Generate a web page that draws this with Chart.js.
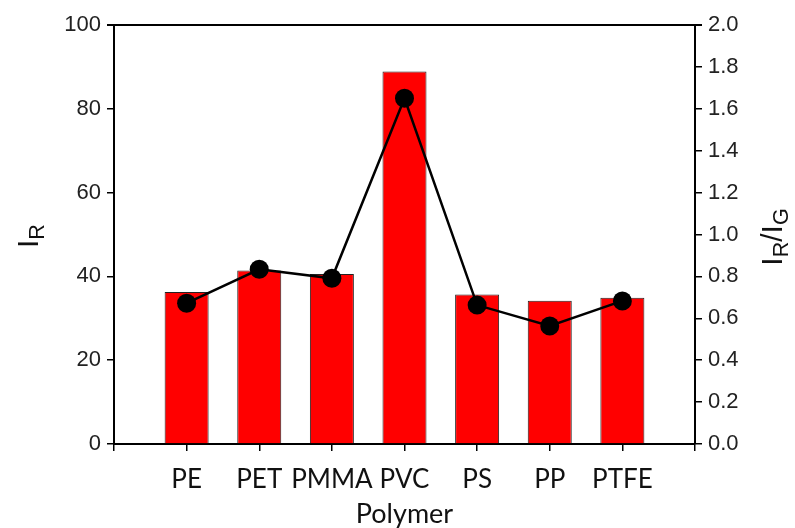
<!DOCTYPE html>
<html><head><meta charset="utf-8">
<script src="https://cdn.jsdelivr.net/npm/chart.js@4/dist/chart.umd.min.js"></script>
<style>html,body{margin:0;padding:0;background:#fff}</style>
</head><body>
<canvas id="c" width="795" height="528"></canvas>
<script>
const categories = ['PE', 'PET', 'PMMA', 'PVC', 'PS', 'PP', 'PTFE'];
const positions = [1, 2, 3, 4, 5, 6, 7];
const irValues = [36.3, 41.4, 40.6, 88.9, 35.7, 34.2, 34.9];
const ratioValues = [0.672, 0.834, 0.791, 1.650, 0.663, 0.563, 0.683];
const leftAxis = { min: 0, max: 100, step: 20 };
const rightAxis = { min: 0, max: 2.0, step: 0.2 };
const xAxisTitle = 'Polymer';

const numFont = { family: '"Liberation Sans", Arial, sans-serif', size: 22 };
const catFont = { family: 'Lato, "Open Sans", sans-serif', size: 26 };
const xTitleFont = { family: 'Lato, "Open Sans", sans-serif', size: 27 };

const frame = {
  id: 'frame',
  afterDatasetsDraw(chart) {
    const { ctx, chartArea: a } = chart;
    ctx.save();
    ctx.strokeStyle = '#000';
    ctx.lineWidth = 2;
    ctx.beginPath();
    ctx.moveTo(a.left - 7, a.top);
    ctx.lineTo(a.right + 7, a.top);
    ctx.stroke();
    ctx.restore();
  }
};

function drawSubTitle(ctx, cx, cy, parts, size) {
  ctx.save();
  ctx.translate(cx, cy);
  ctx.rotate(-Math.PI / 2);
  ctx.fillStyle = '#111';
  ctx.textBaseline = 'alphabetic';
  let total = 0;
  parts.forEach(p => {
    ctx.font = (p.sub ? size * 0.72 : size) + 'px "Liberation Sans", Arial, sans-serif';
    p.w = ctx.measureText(p.t).width;
    total += p.w;
  });
  let x = -total / 2;
  parts.forEach(p => {
    ctx.font = (p.sub ? size * 0.72 : size) + 'px "Liberation Sans", Arial, sans-serif';
    ctx.fillText(p.t, x, size * 0.36 + (p.sub ? size * 0.2 : 0));
    x += p.w;
  });
  ctx.restore();
}

const titles = {
  id: 'titles',
  afterDraw(chart) {
    const ctx = chart.ctx;
    drawSubTitle(ctx, 27, 236, [{ t: 'I' }, { t: 'R', sub: true }], 30);
    drawSubTitle(ctx, 771, 237, [{ t: 'I' }, { t: 'R', sub: true }, { t: '/I' }, { t: 'G', sub: true }], 30);
  }
};

new Chart(document.getElementById('c'), {
  type: 'bar',
  data: {
    datasets: [
      {
        type: 'line',
        data: positions.map((x, i) => ({ x, y: ratioValues[i] })),
        yAxisID: 'y1',
        borderColor: '#000',
        borderWidth: 2.5,
        backgroundColor: '#000',
        pointRadius: 9.5,
        pointBackgroundColor: '#000',
        pointBorderWidth: 0,
        tension: 0,
        order: 0
      },
      {
        type: 'bar',
        data: positions.map((x, i) => ({ x, y: irValues[i] })),
        yAxisID: 'y',
        backgroundColor: '#ff0000',
        borderColor: '#222',
        borderWidth: 1,
        categoryPercentage: 1,
        barPercentage: 0.606,
        order: 1
      }
    ]
  },
  options: {
    responsive: false,
    animation: false,
    layout: { padding: { top: 25, left: 0, right: 0, bottom: 0 } },
    plugins: { legend: { display: false }, tooltip: { enabled: false } },
    scales: {
      x: {
        type: 'linear',
        min: 0, max: 8,
        offset: false,
        afterFit(s) { s.height = 84; },
        grid: { drawOnChartArea: false, offset: false, tickLength: 7, color: '#000', lineWidth: 1.5 },
        border: { color: '#000', width: 2 },
        ticks: {
          stepSize: 1, autoSkip: false, maxRotation: 0, padding: 13,
          color: '#111', font: catFont,
          callback: v => categories[v - 1] || ''
        },
        title: { display: true, text: xAxisTitle, color: '#111', font: xTitleFont, padding: { top: 0, bottom: -2 } }
      },
      y: {
        position: 'left',
        min: leftAxis.min, max: leftAxis.max,
        afterFit(s) { s.width = 114; },
        grid: { drawOnChartArea: false, tickLength: 7, color: '#000', lineWidth: 1.5 },
        border: { color: '#000', width: 2 },
        ticks: { stepSize: leftAxis.step, color: '#222', font: numFont, padding: 6 }
      },
      y1: {
        position: 'right',
        min: rightAxis.min, max: rightAxis.max,
        afterFit(s) { s.width = 100; },
        grid: { drawOnChartArea: false, tickLength: 7, color: '#000', lineWidth: 1.5 },
        border: { color: '#000', width: 2 },
        ticks: { stepSize: rightAxis.step, color: '#222', font: numFont, padding: 6, callback: v => v.toFixed(1) }
      }
    }
  },
  plugins: [frame, titles]
});
</script>
</body></html>
